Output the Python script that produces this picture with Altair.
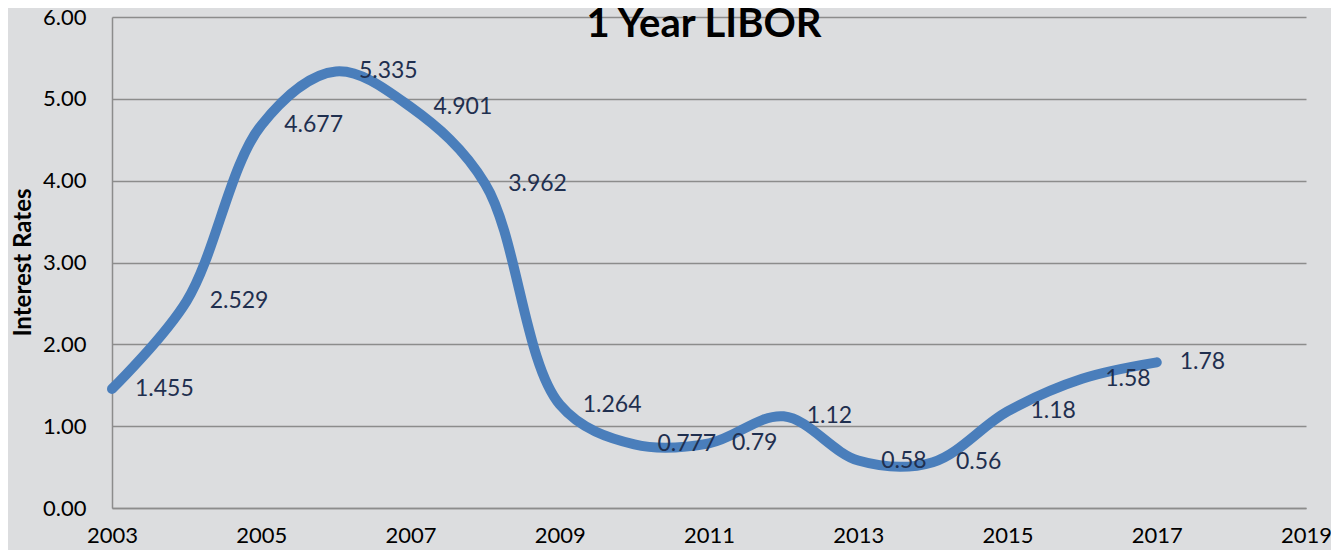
import altair as alt
import pandas as pd

years = [2003, 2004, 2005, 2006, 2007, 2008, 2009, 2010, 2011, 2012, 2013, 2014, 2015, 2016, 2017]
rates = [1.455, 2.529, 4.677, 5.335, 4.901, 3.962, 1.264, 0.777, 0.79, 1.12, 0.58, 0.56, 1.18, 1.58, 1.78]
labels = ["1.455", "2.529", "4.677", "5.335", "4.901", "3.962", "1.264", "0.777", "0.79", "1.12", "0.58", "0.56", "1.18", "1.58", "1.78"]
x_ticks = [2003, 2005, 2007, 2009, 2011, 2013, 2015, 2017, 2019]
y_ticks = [0, 1, 2, 3, 4, 5, 6]
title_text = ["1 Year LIBOR"]

df = pd.DataFrame({"year": years, "rate": rates, "label": labels})

FONT = "Lato"

x_enc = alt.X("year:Q", scale=alt.Scale(domain=[2003, 2019], nice=False, zero=False),
              axis=alt.Axis(values=x_ticks, format="d", title=None, grid=False, ticks=False,
                            labelFontSize=22, labelFont=FONT, labelColor="#000000",
                            labelBaseline="alphabetic", labelPadding=34,
                            domainColor="#8c8c8c", domainWidth=1.5, labelFlush=False))
y_enc = alt.Y("rate:Q", scale=alt.Scale(domain=[0, 6], nice=False),
              axis=alt.Axis(values=y_ticks, format=".2f", title="Interest Rates",
                            titleFont=FONT, titleFontSize=24, titleFontWeight="bold",
                            titleColor="#000000", titleAngle=270, titleX=-82, titleY=245,
                            titleAlign="center", titleBaseline="alphabetic",
                            grid=True, gridColor="#8c8c8c", gridWidth=1.5, ticks=False,
                            labelFontSize=22, labelFont=FONT, labelColor="#000000",
                            labelPadding=26, domainColor="#8c8c8c", domainWidth=1.5))

line = alt.Chart(df).mark_line(interpolate="catmull-rom", strokeWidth=10,
                               color="#4a7ebb", strokeCap="round").encode(x=x_enc, y=y_enc)

text = alt.Chart(df).mark_text(align="left", baseline="middle", dx=23, fontSize=23,
                               font=FONT, color="#1f2f4f").encode(
    x="year:Q", y="rate:Q", text="label:N")

title = alt.Chart(pd.DataFrame({"t": title_text})).mark_text(
    align="center", baseline="alphabetic", fontSize=40, fontWeight="bold",
    font=FONT, color="#000000").encode(
    text="t:N", x=alt.value(592), y=alt.value(20))

chart = alt.layer(line, text, title).properties(
    width=1194, height=491,
    autosize=alt.AutoSizeParams(type="none"),
    padding={"left": 104, "top": 9, "right": 25, "bottom": 42},
).configure(background="#dcdddf").configure_view(stroke=None)

chart.save("out.html", embed_options={"renderer": "svg", "actions": False})
